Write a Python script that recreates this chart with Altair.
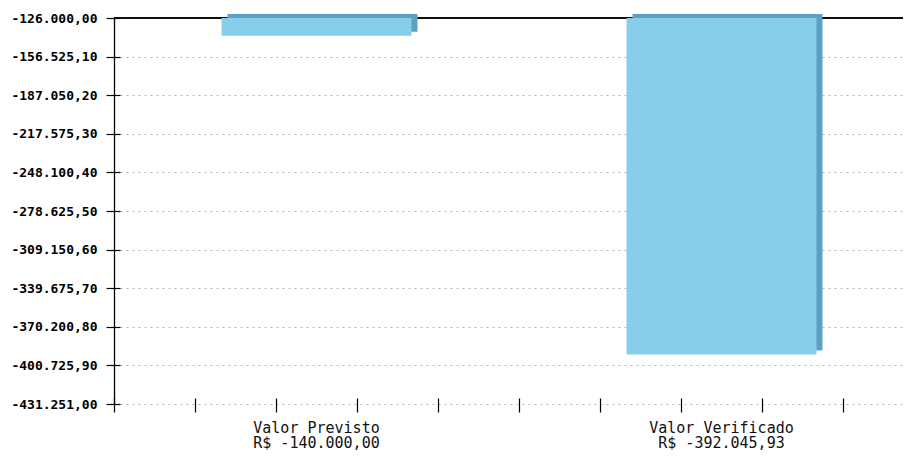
import altair as alt
import pandas as pd

categories = ["Valor Previsto", "Valor Verificado"]
value_labels = ["R$ -140.000,00", "R$ -392.045,93"]
values = [-140000.00, -392045.93]
baseline = -126000.00
y_ticks = [-126000.00, -156525.10, -187050.20, -217575.30, -248100.40,
           -278625.50, -309150.60, -339675.70, -370200.80, -400725.90,
           -431251.00]
x_minor_ticks = [0, 1, 2, 3, 4, 5, 6, 7, 8, 9]

labels = [f"{c}|{v}" for c, v in zip(categories, value_labels)]
df = pd.DataFrame({"cat": labels, "value": values, "base": [baseline] * len(values)})

FRONT = "#87ceeb"
SIDE = "#5aa2c0"
MONO = "DejaVu Sans Mono"

x_band = alt.Scale(domain=labels, range=[0, 810], paddingInner=0.531, paddingOuter=0.2655)
y_scale = alt.Scale(domain=[y_ticks[-1], y_ticks[0]], nice=False, zero=False)

axis_layer = alt.Chart(df).mark_bar(opacity=0).encode(
    x=alt.X("cat:N", scale=x_band, sort=labels, title=None,
            axis=alt.Axis(ticks=False, domain=False, grid=False, labelAngle=0,
                          labelExpr="split(datum.label, '|')",
                          labelFont=MONO, labelFontSize=15, labelLineHeight=15,
                          labelColor="#111", labelPadding=16)),
    y=alt.Y("value:Q", scale=y_scale, title=None,
            axis=alt.Axis(values=y_ticks, format=",.2f", ticks=False, domain=True,
                          domainColor="black", domainWidth=1.3,
                          grid=True, gridColor="#b4b4b4", gridDash=[2, 4],
                          labelFont=MONO, labelFontSize=13, labelFontWeight="bold",
                          labelColor="black", labelPadding=17)),
    y2="base:Q",
)

base_rule = alt.Chart(df).mark_rule(color="black", strokeWidth=1.3).encode(
    y=alt.Y(datum=baseline, type="quantitative", axis=None)
)

back = alt.Chart(df).mark_bar(color=SIDE, xOffset=6, yOffset=-4, y2Offset=-4).encode(
    x=alt.X("cat:N", scale=x_band, sort=labels, axis=None),
    y=alt.Y("value:Q", axis=None),
    y2="base:Q",
)

front = alt.Chart(df).mark_bar(color=FRONT).encode(
    x=alt.X("cat:N", scale=x_band, sort=labels, axis=None),
    y=alt.Y("value:Q", axis=None),
    y2="base:Q",
)

x_tick_layer = alt.Chart(df).mark_rule(opacity=0).encode(
    x=alt.X(datum=0, type="quantitative",
            scale=alt.Scale(domain=[0, 10], range=[0, 810], nice=False),
            axis=alt.Axis(values=x_minor_ticks, orient="bottom", offset=-6, tickSize=14,
                          tickColor="black", tickWidth=1.2, labels=False,
                          domain=False, grid=False, title=None))
)

y_tick_layer = alt.Chart(df).mark_rule(opacity=0).encode(
    y=alt.Y(datum=baseline, type="quantitative",
            axis=alt.Axis(values=y_ticks, orient="left", offset=-6, tickSize=14,
                          tickColor="black", tickWidth=1.2, labels=False,
                          domain=False, grid=False, title=None))
)

chart = alt.layer(axis_layer, base_rule, back, front, x_tick_layer, y_tick_layer).resolve_scale(
    x="independent"
).resolve_axis(
    x="independent", y="independent"
).properties(
    width=789, height=386,
    autosize=alt.AutoSizeParams(type="none"),
    padding={"left": 106, "top": 10, "right": 0, "bottom": 46},
).configure(
    locale={"number": {"decimal": ",", "thousands": ".", "grouping": [3],
                       "currency": ["R$ ", ""], "minus": "-"}}
).configure_view(stroke=None)

chart.save("out.html", embed_options={"renderer": "svg", "actions": False})
